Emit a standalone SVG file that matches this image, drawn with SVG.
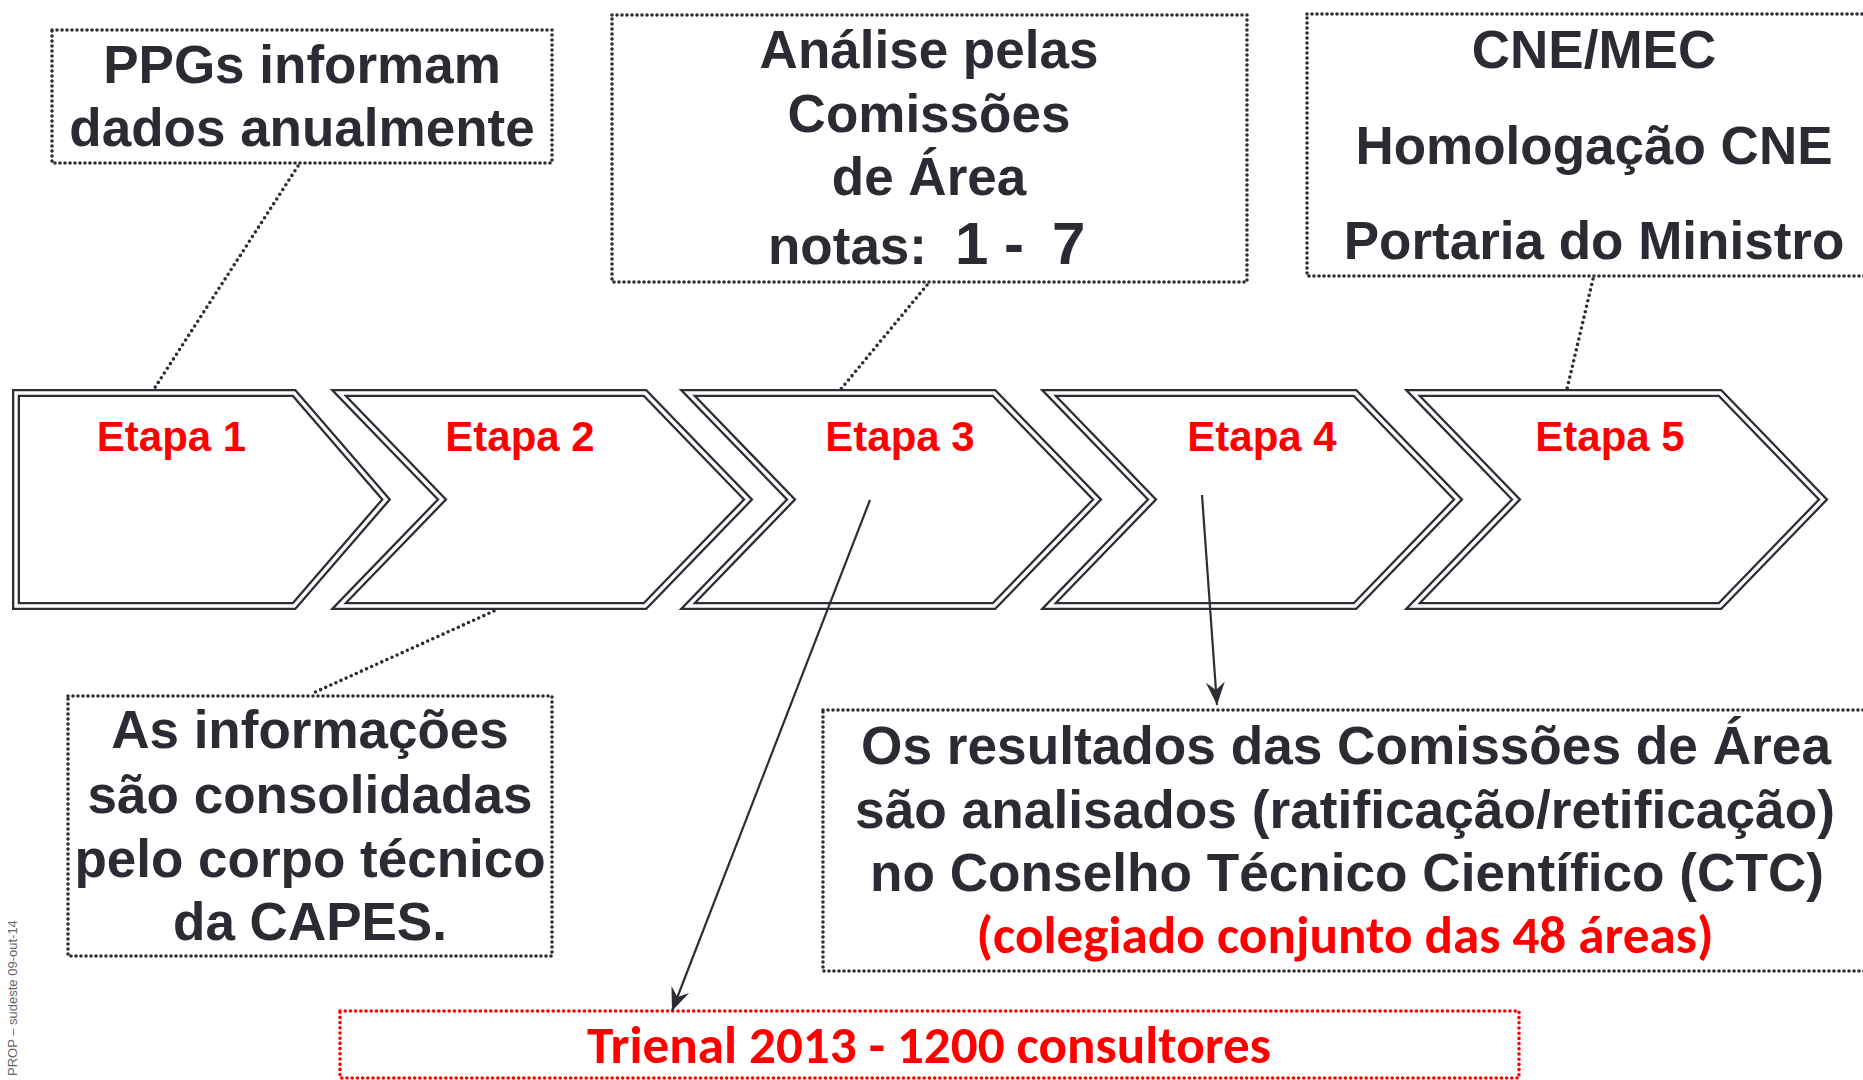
<svg xmlns="http://www.w3.org/2000/svg" width="1863" height="1080" viewBox="0 0 1863 1080">
<defs>
<style>
.chev-o{fill:#fff;stroke:#2d2d36;stroke-width:8;stroke-linejoin:miter}
.chev-i{fill:none;stroke:#fff;stroke-width:3.4;stroke-linejoin:miter}
.etapa{font-family:"Liberation Sans",Arial,sans-serif;font-weight:bold;font-size:42px;fill:#ff0000;text-anchor:middle}
.t{font-family:"Liberation Sans",Arial,sans-serif;font-weight:bold;font-size:53px;fill:#2b2b33;text-anchor:middle}
.red{font-family:Carlito,"Liberation Sans",Arial,sans-serif;font-weight:bold;fill:#ff0000;text-anchor:middle}
.box{fill:none;stroke:#2d2d36;stroke-width:3.6;stroke-dasharray:0 5;stroke-linecap:round}
.rbox{fill:none;stroke:#ff0000;stroke-width:3.6;stroke-dasharray:0 5.2;stroke-linecap:round}
.dl{fill:none;stroke:#2d2d36;stroke-width:3.6;stroke-dasharray:0 5.6;stroke-linecap:round}
.arr{fill:none;stroke:#2d2d36;stroke-width:2.2}
</style>
<marker id="ah" markerUnits="userSpaceOnUse" viewBox="-24 -10 26 20" refX="0" refY="0" markerWidth="26" markerHeight="20" orient="auto">
<path d="M0,0 L-23,-9.5 L-15,0 L-23,9.5 Z" fill="#2d2d36"/>
</marker>
</defs>
<rect width="1863" height="1080" fill="#ffffff"/>

<g id="etapa1">
<path class="chev-o" d="M16,393 L294,393 L386,499.5 L294,606 L16,606 Z"/>
<path class="chev-i" d="M16,393 L294,393 L386,499.5 L294,606 L16,606 Z"/>
<text class="etapa" x="171.5" y="451">Etapa 1</text>
</g>
<g id="etapa2">
<path class="chev-o" d="M339,393 L645,393 L748,499.5 L645,606 L339,606 L442,499.5 Z"/>
<path class="chev-i" d="M339,393 L645,393 L748,499.5 L645,606 L339,606 L442,499.5 Z"/>
<text class="etapa" x="520" y="451">Etapa 2</text>
</g>
<g id="etapa3">
<path class="chev-o" d="M688,393 L994,393 L1097,499.5 L994,606 L688,606 L791,499.5 Z"/>
<path class="chev-i" d="M688,393 L994,393 L1097,499.5 L994,606 L688,606 L791,499.5 Z"/>
<text class="etapa" x="900" y="451">Etapa 3</text>
</g>
<g id="etapa4">
<path class="chev-o" d="M1049,393 L1355,393 L1458,499.5 L1355,606 L1049,606 L1152,499.5 Z"/>
<path class="chev-i" d="M1049,393 L1355,393 L1458,499.5 L1355,606 L1049,606 L1152,499.5 Z"/>
<text class="etapa" x="1262" y="451">Etapa 4</text>
</g>
<g id="etapa5">
<path class="chev-o" d="M1413,393 L1720,393 L1823,499.5 L1720,606 L1413,606 L1516,499.5 Z"/>
<path class="chev-i" d="M1413,393 L1720,393 L1823,499.5 L1720,606 L1413,606 L1516,499.5 Z"/>
<text class="etapa" x="1610" y="451">Etapa 5</text>
</g>

<g id="ppgs">
<rect class="box" x="52" y="30" width="500" height="133"/>
<text class="t" x="302" y="83">PPGs informam</text>
<text class="t" x="302" y="146">dados anualmente</text>
</g>

<g id="analise">
<rect class="box" x="612" y="15" width="635" height="267"/>
<text class="t" x="929" y="68">Análise pelas</text>
<text class="t" x="929" y="132">Comissões</text>
<text class="t" x="929" y="195">de Área</text>
<text class="t" style="text-anchor:start" y="264"><tspan x="768">notas:</tspan><tspan x="955" font-size="60">1</tspan><tspan x="1004" font-size="60">-</tspan><tspan x="1052" font-size="60">7</tspan></text>
</g>

<g id="cne">
<rect class="box" x="1307" y="14" width="600" height="262"/>
<text class="t" x="1594" y="68">CNE/MEC</text>
<text class="t" x="1594" y="164">Homologação CNE</text>
<text class="t" x="1594" y="259">Portaria do Ministro</text>
</g>

<g id="informacoes">
<rect class="box" x="68" y="696" width="484" height="260"/>
<text class="t" x="310" y="748">As informações</text>
<text class="t" x="310" y="813">são consolidadas</text>
<text class="t" x="310" y="877">pelo corpo técnico</text>
<text class="t" x="310" y="940">da CAPES.</text>
</g>

<g id="resultados">
<rect class="box" x="823" y="710" width="1100" height="261"/>
<text class="t" x="1346" y="764" textLength="970" lengthAdjust="spacingAndGlyphs">Os resultados das Comissões de Área</text>
<text class="t" x="1345" y="828" textLength="980" lengthAdjust="spacingAndGlyphs">são analisados (ratificação/retificação)</text>
<text class="t" x="1347" y="891" textLength="954" lengthAdjust="spacingAndGlyphs">no Conselho Técnico Científico (CTC)</text>
<text class="red" x="1345" y="953" font-size="52" textLength="737" lengthAdjust="spacingAndGlyphs">(colegiado conjunto das 48 áreas)</text>
</g>

<g id="trienal">
<rect class="rbox" x="340" y="1011" width="1179" height="67"/>
<text class="red" x="929" y="1063" font-size="52" textLength="684" lengthAdjust="spacingAndGlyphs">Trienal 2013 - 1200 consultores</text>
</g>

<g id="connectors">
<line class="dl" x1="298" y1="166" x2="154" y2="389"/>
<line class="dl" x1="927" y1="285" x2="841" y2="389"/>
<line class="dl" x1="1593" y1="279" x2="1567" y2="389"/>
<line class="dl" x1="494" y1="611" x2="311" y2="694"/>
<line class="arr" x1="870" y1="500" x2="672" y2="1011" marker-end="url(#ah)"/>
<line class="arr" x1="1202" y1="495" x2="1217" y2="705" marker-end="url(#ah)"/>
</g>

<text transform="translate(17,1076) rotate(-90)" font-family="Liberation Sans, Arial, sans-serif" font-size="13" fill="#666666">PROP – sudeste 09-out-14</text>
</svg>
